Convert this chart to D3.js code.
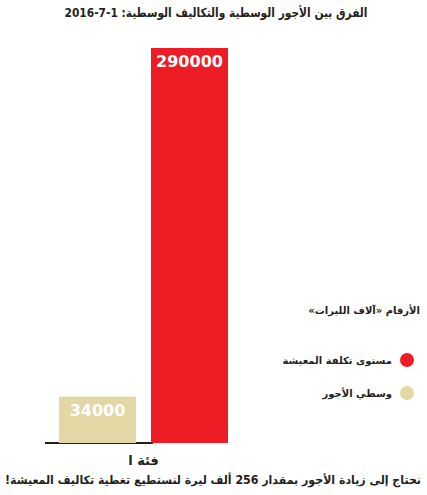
<!DOCTYPE html>
<html><head><meta charset="utf-8">
<script src="https://cdn.jsdelivr.net/npm/d3@7/dist/d3.min.js"></script>
<style>body{margin:0;background:#fff}svg{display:block}text{font-family:"DejaVu Sans",sans-serif;font-weight:bold}</style>
</head><body><svg id="c" width="427" height="495"></svg>
<script>
const title = "الفرق بين الأجور الوسطية والتكاليف الوسطية: 1-7-2016";
const categories = ["فئة ا"];
const series = ["وسطي الأجور", "مستوى تكلفة المعيشة"];
const values = [34000, 290000];
const colors = ["#E3D7A6", "#EE1D25"];
const legendTitle = "الأرقام «آلاف الليرات»";
const legendOrder = ["مستوى تكلفة المعيشة", "وسطي الأجور"];
const footer = "نحتاج إلى زيادة الأجور بمقدار 256 ألف ليرة لنستطيع تغطية تكاليف المعيشة!";

const svg = d3.select("#c");
const x0 = d3.scaleBand().domain(categories).range([30, 257]);
const x1 = d3.scaleBand().domain(series).range([29, 198]).paddingInner(0.163).paddingOuter(0);
const y = d3.scaleLinear().domain([0, 290000]).range([443, 48]);
const color = d3.scaleOrdinal().domain(series).range(colors);

svg.append("text").attr("x", 216).attr("y", 17).attr("text-anchor", "middle")
  .attr("font-size", 12.5).attr("fill", "#231f20").attr("direction", "rtl")
  .attr("textLength", 303).attr("lengthAdjust", "spacingAndGlyphs").text(title);

// baseline
svg.append("line").attr("x1", 45).attr("x2", x0(categories[0]) + x1(series[1]) + 2)
  .attr("y1", y(0)).attr("y2", y(0)).attr("stroke", "#231f20").attr("stroke-width", 2);

const g = svg.append("g").attr("transform", `translate(${x0(categories[0])},0)`);
const data = series.map((s, i) => ({s, v: values[i]}));
g.selectAll("rect").data(data).join("rect")
  .attr("x", d => x1(d.s)).attr("width", x1.bandwidth())
  .attr("y", d => y(d.v)).attr("height", d => y(0) - y(d.v))
  .attr("fill", d => color(d.s));
g.selectAll("text.v").data(data).join("text").attr("class", "v")
  .attr("x", d => x1(d.s) + x1.bandwidth() / 2).attr("y", d => y(d.v) + 19)
  .attr("text-anchor", "middle").attr("font-size", 16).attr("fill", "#fff")
  .text(d => d.v);

svg.append("text").attr("x", x0(categories[0]) + x0.bandwidth() / 2).attr("y", 465)
  .attr("text-anchor", "middle").attr("font-size", 13).attr("fill", "#231f20").text(categories[0]);

svg.append("text").attr("x", 213).attr("y", 484).attr("text-anchor", "middle")
  .attr("font-size", 11.5).attr("fill", "#231f20").attr("direction", "rtl")
  .attr("textLength", 416).attr("lengthAdjust", "spacingAndGlyphs").text(footer);

// legend
svg.append("text").attr("x", 420).attr("y", 314).attr("text-anchor", "start")
  .attr("font-size", 10).attr("fill", "#231f20").attr("direction", "rtl")
  .text(legendTitle);
const lg = svg.selectAll("g.lg").data(legendOrder).join("g").attr("class", "lg")
  .attr("transform", (d, i) => `translate(0,${360 + i * 33})`);
lg.append("circle").attr("cx", 407).attr("cy", 0).attr("r", 7).attr("fill", d => color(d));
lg.append("text").attr("x", 392).attr("y", 4).attr("text-anchor", "end")
  .attr("font-size", 10).attr("fill", "#231f20").text(d => d);
</script></body></html>
